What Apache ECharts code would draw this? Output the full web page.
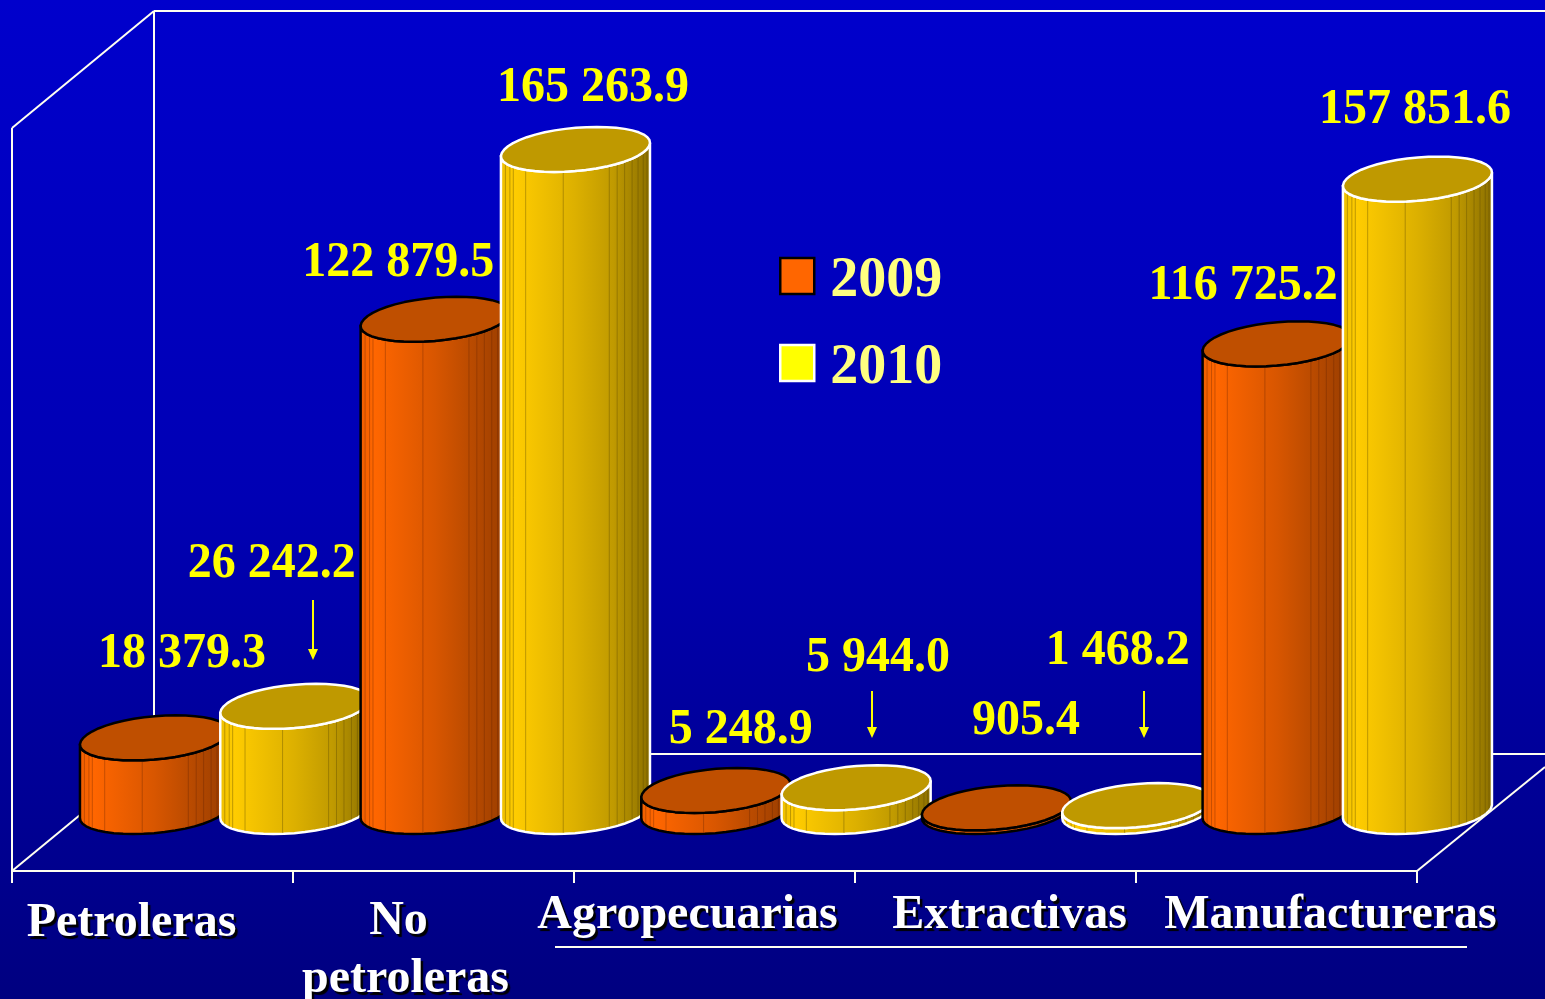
<!DOCTYPE html>
<html>
<head>
<meta charset="utf-8">
<style>html,body{margin:0;padding:0;background:#000090}#c{width:1545px;height:999px}</style>
<script src="https://cdn.jsdelivr.net/npm/echarts@6/dist/echarts.min.js"></script>
</head>
<body>
<div id="c"></div>
<script>
const categories = ['Petroleras', 'No\npetroleras', 'Agropecuarias', 'Extractivas', 'Manufactureras'];
const values2009 = [18379.3, 122879.5, 5248.9, 905.4, 116725.2];
const values2010 = [26242.2, 165263.9, 5944.0, 1468.2, 157851.6];

// label placement relative to the top of each cylinder
const labelOffsets2009 = [[27.5, -84.5], [-37, -56.5], [25, -61], [29.5, -87.5], [-34, -58.5]];
const labelOffsets2010 = [[-23, -142.5], [17.5, -62], [22, -129.5], [-19, -154.5], [-2.5, -69.5]];
const facetStops = [.03, .06, .083, .166, .418, .727, .78, .83, .88, .92, .955, .98];

const SERIF = '"Liberation Serif","Times New Roman",serif';
const fmt = v => {
  const [a, b] = v.toFixed(1).split('.');
  return a.replace(/\B(?=(\d{3})+$)/g, ' ') + '.' + b;
};

// Unit outline of a cylinder cap: a circle, sheared into the floor plane.
const CAP_STEPS = 44, CAP_POWER = 2.05;
function capOutline(halfWidth, shear) {
  const raw = [];
  for (let i = 0; i < CAP_STEPS; i++) {
    const t = 2 * Math.PI * i / CAP_STEPS, u = Math.cos(t), v = Math.sin(t);
    const s = Math.pow(Math.pow(Math.abs(u), CAP_POWER) + Math.pow(Math.abs(v), CAP_POWER), -1 / CAP_POWER);
    raw.push([s * u + shear * s * v, s * v]);
  }
  let hi = 0, lo = 0;
  raw.forEach((p, i) => { if (p[0] > raw[hi][0]) hi = i; if (p[0] < raw[lo][0]) lo = i; });
  const k = halfWidth / raw[hi][0];
  const pts = raw.map(p => [p[0] * k, p[1]]);
  const front = [];
  for (let i = lo; ; i = (i + 1) % CAP_STEPS) { front.push(pts[i]); if (i === hi) break; }
  return { pts, front };
}

function makeRender(seriesIdx, offsets, palette) {
  return function (params, api) {
    const cat = api.value(0), val = api.value(1);
    const top = api.coord([cat, val]);
    const base = api.coord([cat, 0]);
    const band = api.size([1, 0])[0];
    const cx = top[0] + (seriesIdx === 0 ? -band / 4 : band / 4);
    const halfWidth = band * 0.2655, dy = 22.5;
    const cap = capOutline(halfWidth, 0.3);
    const place = (p, y0) => [cx + p[0], y0 - dy * p[1]];
    const side = cap.front.map(p => place(p, base[1]))
      .concat(cap.front.slice().reverse().map(p => place(p, top[1])));
    const order = (cat * 2 + seriesIdx + 1) * 10;
    const children = [{
      type: 'polygon', z2: order, shape: { points: side },
      style: {
        fill: new echarts.graphic.LinearGradient(0, 0, 1, 0, palette.body),
        stroke: palette.edge, lineWidth: 2.5, lineJoin: 'round'
      }
    }];
    facetStops.forEach(f => {
      const fx = (2 * f - 1) * halfWidth;
      const fr = cap.front;
      let j = 0;
      while (j < fr.length - 2 && fr[j + 1][0] < fx) j++;
      const m = (fx - fr[j][0]) / ((fr[j + 1][0] - fr[j][0]) || 1);
      const fy = fr[j][1] + (fr[j + 1][1] - fr[j][1]) * m;
      const a = place([fx, fy], base[1]), b = place([fx, fy], top[1]);
      children.push({
        type: 'line', z2: order + 1,
        shape: { x1: a[0], y1: a[1] - 1, x2: b[0], y2: b[1] },
        style: { stroke: palette.facet, lineWidth: 1 }
      });
    });
    children.push({
      type: 'polygon', z2: order + 2, shape: { points: cap.pts.map(p => place(p, top[1])) },
      style: { fill: palette.top, stroke: palette.edge, lineWidth: 2.5, lineJoin: 'round' }
    });
    const off = offsets[params.dataIndex];
    children.push({
      type: 'text', z2: 500, x: cx + off[0], y: top[1] + off[1], scaleY: 1.07,
      style: {
        text: fmt(val), x: 0, y: 0, align: 'center', verticalAlign: 'middle',
        fill: '#ffff00', font: 'bold 48px ' + SERIF
      }
    });
    return { type: 'group', children };
  };
}

const orange = {
  edge: '#000000', top: '#bf4f00', facet: 'rgba(90,30,0,0.32)',
  body: [{ offset: 0, color: '#ee5f00' }, { offset: .1, color: '#ff6600' }, { offset: .5, color: '#d85600' }, { offset: .75, color: '#b84a00' }, { offset: 1, color: '#963c00' }]
};
const yellow = {
  edge: '#ffffff', top: '#bf9900', facet: 'rgba(90,70,0,0.38)',
  body: [{ offset: 0, color: '#eebf00' }, { offset: .1, color: '#ffcc00' }, { offset: .5, color: '#dcb000' }, { offset: .75, color: '#c09a00' }, { offset: 1, color: '#8a6e00' }]
};

const frameLine = '#fffff0';
const seg = (x1, y1, x2, y2, z) => ({
  type: 'line', z: z || 0, shape: { x1, y1, x2, y2 }, style: { stroke: frameLine, lineWidth: 2 }
});
const arrow = (x, y1, y2) => ([
  { type: 'line', z: 10, shape: { x1: x, y1, x2: x, y2: y2 - 6 }, style: { stroke: '#ffff00', lineWidth: 2 } },
  { type: 'polygon', z: 10, shape: { points: [[x - 5, y2 - 11], [x + 5, y2 - 11], [x, y2]] }, style: { fill: '#ffff00' } }
]);

// per-label nudges of the hand-placed slide text
const mkRich = (padding) => ({
  color: '#fff', fontFamily: SERIF, fontWeight: 'bold', fontSize: 48, lineHeight: 58,
  textShadowColor: '#000', textShadowOffsetX: 2.5, textShadowOffsetY: 2.5, textShadowBlur: 1, padding
});
const labelRich = {
  a: mkRich([16, 42, 0, 0]),
  b: mkRich([12, 70, 0, 0]),
  b1: mkRich([12, 56, 0, 0]),
  c: mkRich([0, 54, 0, 0]),
  d: mkRich([0, 0, 0, 28]),
  e: mkRich([0, 0, 0, 108])
};
const richKeys = [['a'], ['b', 'b1'], ['c'], ['d'], ['e']];

const chart = echarts.init(document.getElementById('c'), null, { renderer: 'canvas' });
chart.setOption({
  animation: false,
  backgroundColor: new echarts.graphic.LinearGradient(0, 0, 0, 1, [
    { offset: 0, color: '#0000cc' }, { offset: .5, color: '#0000b4' }, { offset: 1, color: '#000080' }
  ]),
  grid: [
    { left: 12, width: 1405, top: 11, bottom: 128, containLabel: false, outerBoundsMode: 'none' },
    { left: 84.3, width: 1403.3, top: 10.3, bottom: 187.5, containLabel: false, outerBoundsMode: 'none' }
  ],
  xAxis: [
    {
      type: 'category', gridIndex: 0, data: categories, position: 'bottom',
      axisLine: { show: true, lineStyle: { color: frameLine, width: 2 } },
      axisTick: { show: true, length: 12, lineStyle: { color: frameLine, width: 2 } },
      splitLine: { show: false },
      axisLabel: {
        interval: 0, margin: 16, verticalAlign: 'top', align: 'center',
        textShadowColor: '#000', textShadowOffsetX: 2.5, textShadowOffsetY: 2.5, textShadowBlur: 1,
        formatter: (v, i) => v.split('\n').map((s, k) => '{' + richKeys[i][k] + '|' + s + '}').join('\n'),
        rich: labelRich
      }
    },
    { type: 'category', gridIndex: 1, data: categories, show: false }
  ],
  yAxis: [
    { type: 'value', gridIndex: 0, show: false, splitLine: { show: false } },
    { type: 'value', gridIndex: 1, min: 0, max: 200000, show: false, splitLine: { show: false } }
  ],
  legend: {
    left: 779, top: 242, orient: 'vertical', selectedMode: false, padding: 0,
    itemWidth: 34, itemHeight: 36, itemGap: 19,
    formatter: '{y|{name}}',
    textStyle: {
      color: '#ffff80', fontFamily: SERIF, fontWeight: 'bold', fontSize: 56,
      rich: { y: { color: '#ffff80', fontFamily: SERIF, fontWeight: 'bold', fontSize: 56, lineHeight: 60, padding: [12, 0, 0, 11] } }
    },
    data: [
      { name: '2009', icon: 'rect', itemStyle: { color: '#ff6600', borderColor: '#000', borderWidth: 2.5 } },
      { name: '2010', icon: 'rect', itemStyle: { color: '#ffff00', borderColor: '#fff', borderWidth: 2.5 } }
    ]
  },
  graphic: {
    elements: [
      seg(154, 11, 1545, 11), seg(154, 11, 154, 754), seg(154, 754, 1545, 754),
      seg(12, 128, 154, 11), seg(12, 128, 12, 871), seg(12, 871, 154, 754),
      seg(1417, 871, 1545, 767, 10),
      seg(555, 947, 1467, 947, 10),
      ...arrow(313, 600, 660), ...arrow(872, 691, 738), ...arrow(1144, 691, 738)
    ]
  },
  series: [
    {
      name: '2009', type: 'custom', xAxisIndex: 1, yAxisIndex: 1,
      encode: { x: 0, y: 1 }, silent: true,
      data: values2009.map((v, i) => [i, v]),
      renderItem: makeRender(0, labelOffsets2009, orange)
    },
    {
      name: '2010', type: 'custom', xAxisIndex: 1, yAxisIndex: 1,
      encode: { x: 0, y: 1 }, silent: true,
      data: values2010.map((v, i) => [i, v]),
      renderItem: makeRender(1, labelOffsets2010, yellow)
    }
  ]
});
</script>
</body>
</html>
